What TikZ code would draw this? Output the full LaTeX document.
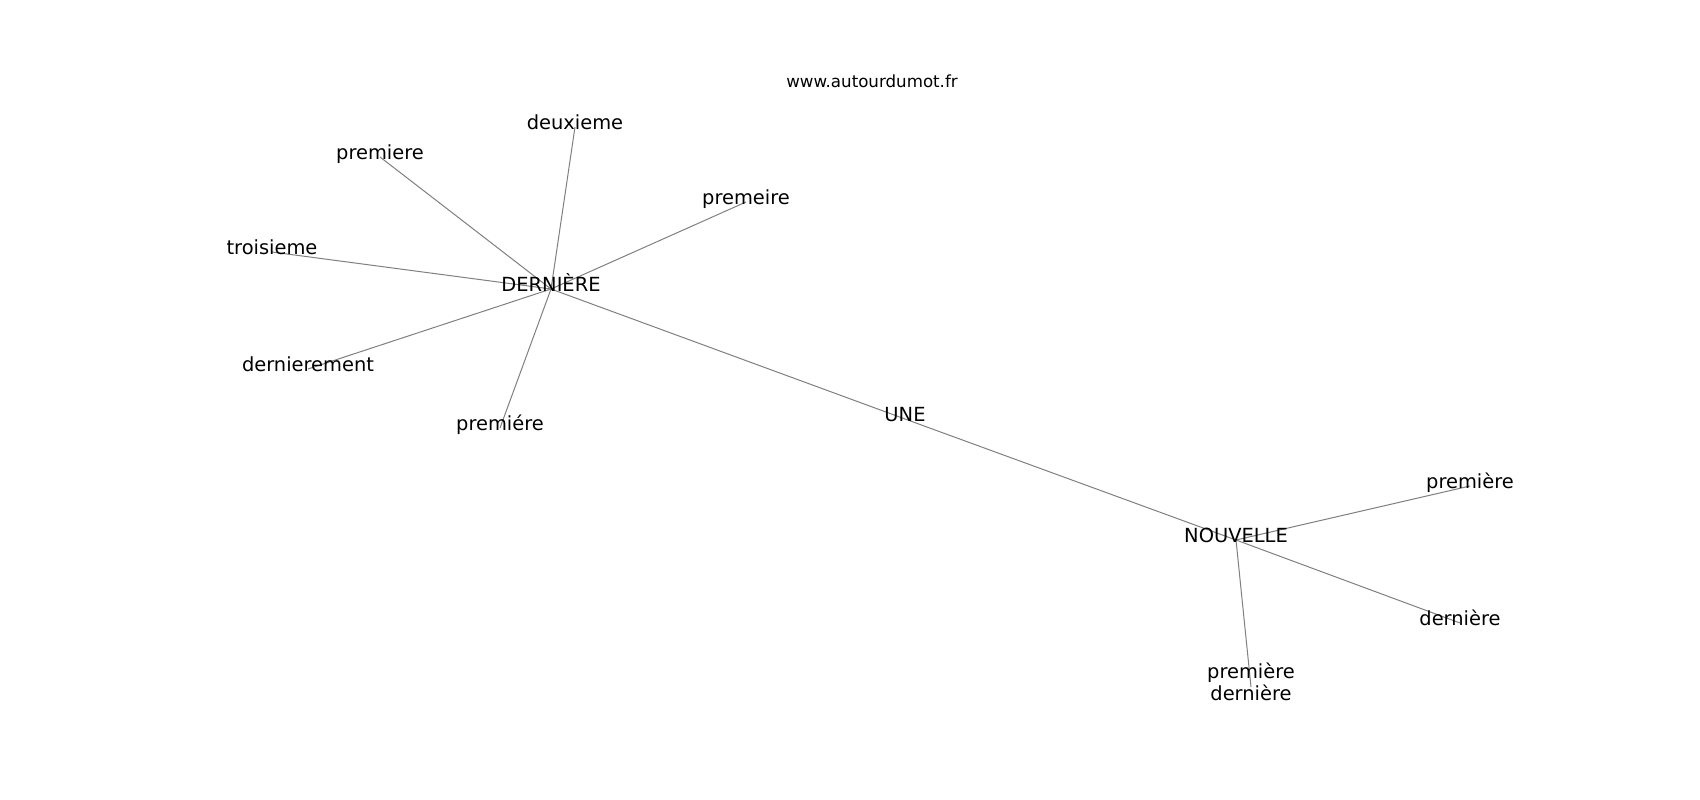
\documentclass[tikz,border=0pt]{standalone}
\usepackage{fontspec}
\setmainfont{DejaVu Sans}
\begin{document}
\begin{tikzpicture}[x=1pt,y=-1pt,
  lbl/.style={inner sep=0pt,text height=0.76em,text depth=0.24em,font=\fontsize{19.44}{22}\selectfont,text=black},
  lbltwo/.style={inner sep=0pt,align=center,text height=0.76em+22pt,text depth=0.24em,font=\fontsize{19.44}{22}\selectfont,text=black},
  ttl/.style={inner sep=0pt,text height=0.76em,text depth=0.24em,font=\fontsize{16.67}{20}\selectfont,text=black},
  edge/.style={draw=gray,line width=1pt}]
\useasboundingbox[fill=white] (0,0) rectangle (1700,800);
\coordinate (cDer) at (551,289);
\coordinate (cDeu) at (575,127);
\coordinate (cPre) at (380,157);
\coordinate (cPme) at (746,202);
\coordinate (cTro) at (272,252);
\coordinate (cDmt) at (308,369);
\coordinate (cPra) at (500,428);
\coordinate (cUne) at (905,419);
\coordinate (cNou) at (1236,540);
\coordinate (cPgr) at (1470,486);
\coordinate (cDgr) at (1460,623);
\coordinate (cPD) at (1251,687);
\foreach \a in {cDeu,cPre,cPme,cTro,cDmt,cPra,cUne} \draw[edge] (cDer) -- (\a);
\draw[edge] (cUne) -- (cNou);
\foreach \a in {cPgr,cDgr,cPD} \draw[edge] (cNou) -- (\a);
\node[ttl] (title) at (872,85) {www.autourdumot.fr};
\node[lbl] (der) at (cDer) {DERNIÈRE};
\node[lbl] (deu) at (cDeu) {deuxieme};
\node[lbl] (pre) at (cPre) {premiere};
\node[lbl] (pme) at (cPme) {premeire};
\node[lbl] (tro) at (cTro) {troisieme};
\node[lbl] (dmt) at (cDmt) {dernierement};
\node[lbl] (pra) at (cPra) {premiére};
\node[lbl] (une) at (cUne) {UNE};
\node[lbl] (nou) at (cNou) {NOUVELLE};
\node[lbl] (pgr) at (cPgr) {première};
\node[lbl] (dgr) at (cDgr) {dernière};
\node[lbltwo] (pd) at (cPD) {première\\dernière};
\end{tikzpicture}
\end{document}
